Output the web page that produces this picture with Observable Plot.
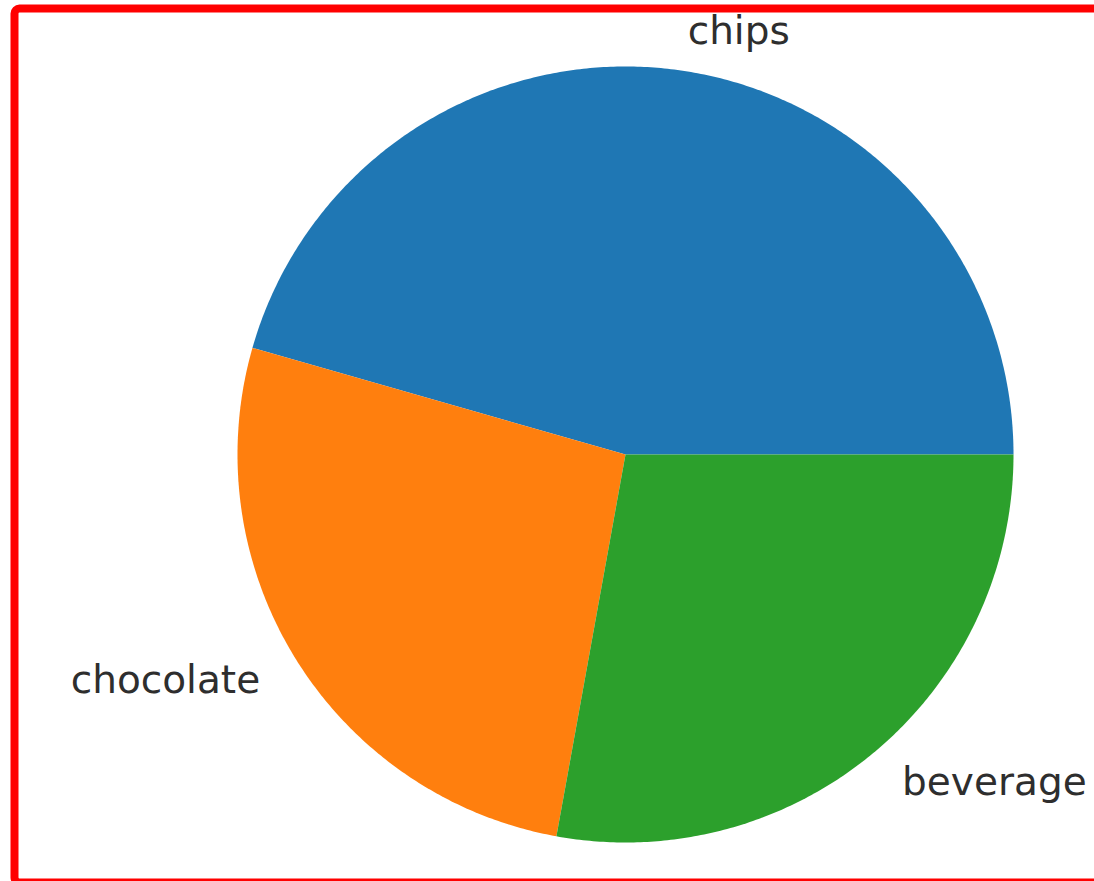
<!DOCTYPE html>
<html>
<head>
<meta charset="utf-8">
<script src="https://cdn.jsdelivr.net/npm/d3@7"></script>
<script src="https://cdn.jsdelivr.net/npm/@observablehq/plot@0.6"></script>
<style>
  html, body { margin: 0; padding: 0; background: #fff; overflow: hidden; }
  #chart svg { display: block; }
</style>
</head>
<body>
<div id="chart"></div>
<script>
// Data
const categories = ["chips", "chocolate", "beverage"];
const values = [36, 21, 22];
const colors = ["#1f77b4", "#ff7f0e", "#2ca02c"];

// Layout
const W = 1094, H = 881;
const R = 388;          // pie radius in px
const CX = 625, CY = 454; // pie centre in px

// Compute slices (matplotlib style: start at 0°, counter-clockwise)
const total = d3.sum(values);
let acc = 0;
const slices = categories.map((label, i) => {
  const a0 = acc / total * 2 * Math.PI;
  acc += values[i];
  const a1 = acc / total * 2 * Math.PI;
  return {label, a0, a1, mid: (a0 + a1) / 2};
});

const points = [];
for (const s of slices) {
  points.push({label: s.label, x: 0, y: 0});
  const n = Math.max(8, Math.ceil((s.a1 - s.a0) / (Math.PI / 360)));
  for (let k = 0; k <= n; k++) {
    const a = s.a0 + (s.a1 - s.a0) * k / n;
    points.push({label: s.label, x: Math.cos(a), y: Math.sin(a)});
  }
  points.push({label: s.label, x: 0, y: 0});
}

const labels = slices.map(s => ({
  label: s.label,
  x: 1.1 * Math.cos(s.mid),
  y: 1.1 * Math.sin(s.mid)
}));

const textStyle = {
  x: "x", y: "y", text: "label",
  fontSize: 39, fontFamily: "DejaVu Sans", fill: "#2e2e2e",
  lineAnchor: "middle"
};

const chart = Plot.plot({
  width: W, height: H,
  margin: 0,
  x: {type: "linear", domain: [-CX / R, (W - CX) / R], range: [0, W], axis: null},
  y: {type: "linear", domain: [-(H - CY) / R, CY / R], range: [H, 0], axis: null},
  color: {domain: categories, range: colors},
  marks: [
    Plot.line(points, {x: "x", y: "y", z: "label", fill: "label", stroke: "none", curve: "linear"}),
    Plot.text(labels.filter(d => d.x >= 0), {...textStyle, textAnchor: "start", dx: 3}),
    Plot.text(labels.filter(d => d.x < 0), {...textStyle, textAnchor: "end", dx: -3}),
    Plot.frame({stroke: "#ff0000", strokeWidth: 8, rx: 5,
      insetLeft: 14, insetTop: 8, insetRight: -10, insetBottom: -1})
  ]
});
document.getElementById("chart").appendChild(chart);
</script>
</body>
</html>
